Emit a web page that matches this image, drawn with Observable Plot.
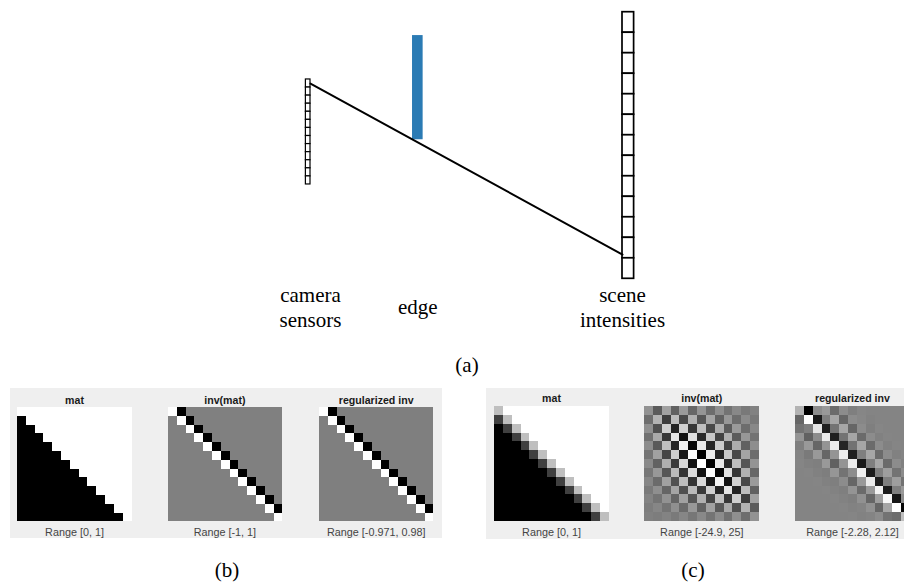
<!DOCTYPE html>
<html>
<head>
<meta charset="utf-8">
<script src="https://cdn.jsdelivr.net/npm/d3@7"></script>
<script src="https://cdn.jsdelivr.net/npm/@observablehq/plot@0.6"></script>
<style>
  html, body { margin: 0; padding: 0; background: #fff; }
  #fig { position: relative; width: 904px; height: 584px; overflow: hidden; background: #fff; }
  .serif { font-family: "Liberation Serif", "Times New Roman", serif; font-size: 21px; line-height: 24px; text-align: center; color: #000; }
  .panel { position: absolute; background: #efefef; }
  .mtitle { position: absolute; font-family: "Liberation Sans", Arial, Helvetica, sans-serif; font-weight: bold; font-size: 10.6px; line-height: 12px; text-align: center; color: #1a1a1a; white-space: nowrap; }
  .mrange { position: absolute; font-family: "Liberation Sans", Arial, Helvetica, sans-serif; font-size: 10.8px; line-height: 12px; text-align: center; color: #444; white-space: nowrap; }
</style>
</head>
<body>
<div id="fig"></div>
<script>
// ---------------- DATA ----------------
// Diagram (a): depths along the viewing direction (camera = 0, scene = 1),
// heights in units of scene cells (13 scene cells, 13 sensor cells).
const sceneCellIndex = [0,1,2,3,4,5,6,7,8,9,10,11,12];
const sensorCellIndex = [0,1,2,3,4,5,6,7,8,9,10,11,12];
const sensorSpan = [3.28, 8.40];
const edgeDepth = [0.327, 0.361];
const edgeSpan = [1.14, 6.22];
const rayPoints = [{depth: 0, h: 3.48}, {depth: 1, h: 11.82}];
const planeLabels = ["camera\nsensors", "edge", "scene\nintensities"];
const planeDepths = [0, 0.344, 1];
const panelLetters = ["(a)", "(b)", "(c)"];

// Matrix panels
const titles = ["mat", "inv(mat)", "regularized inv"];
const rangesB = [[0, 1], [-1, 1], [-0.971, 0.98]];
const rangesC = [[0, 1], [-24.9, 25], [-2.28, 2.12]];

const matB = [
  [1,1,1,1,1,1,1,1,1,1,1,1,1],
  [0,1,1,1,1,1,1,1,1,1,1,1,1],
  [0,0,1,1,1,1,1,1,1,1,1,1,1],
  [0,0,0,1,1,1,1,1,1,1,1,1,1],
  [0,0,0,0,1,1,1,1,1,1,1,1,1],
  [0,0,0,0,0,1,1,1,1,1,1,1,1],
  [0,0,0,0,0,0,1,1,1,1,1,1,1],
  [0,0,0,0,0,0,0,1,1,1,1,1,1],
  [0,0,0,0,0,0,0,0,1,1,1,1,1],
  [0,0,0,0,0,0,0,0,0,1,1,1,1],
  [0,0,0,0,0,0,0,0,0,0,1,1,1],
  [0,0,0,0,0,0,0,0,0,0,0,1,1],
  [0,0,0,0,0,0,0,0,0,0,0,0,1]
];
const invB = [
  [1,-1,0,0,0,0,0,0,0,0,0,0,0],
  [0,1,-1,0,0,0,0,0,0,0,0,0,0],
  [0,0,1,-1,0,0,0,0,0,0,0,0,0],
  [0,0,0,1,-1,0,0,0,0,0,0,0,0],
  [0,0,0,0,1,-1,0,0,0,0,0,0,0],
  [0,0,0,0,0,1,-1,0,0,0,0,0,0],
  [0,0,0,0,0,0,1,-1,0,0,0,0,0],
  [0,0,0,0,0,0,0,1,-1,0,0,0,0],
  [0,0,0,0,0,0,0,0,1,-1,0,0,0],
  [0,0,0,0,0,0,0,0,0,1,-1,0,0],
  [0,0,0,0,0,0,0,0,0,0,1,-1,0],
  [0,0,0,0,0,0,0,0,0,0,0,1,-1],
  [0,0,0,0,0,0,0,0,0,0,0,0,1]
];
const regB = [
  [0.97,-0.971,0,0,0,0,0,0,0,0,0,0,0],
  [0,0.97,-0.97,0,0,0,0,0,0,0,0,0,0],
  [0,0,0.97,-0.97,0,0,0,0,0,0,0,0,0],
  [0,0,0,0.97,-0.97,0,0,0,0,0,0,0,0],
  [0,0,0,0,0.97,-0.97,0,0,0,0,0,0,0],
  [0,0,0,0,0,0.97,-0.97,0,0,0,0,0,0],
  [0,0,0,0,0,0,0.97,-0.97,0,0,0,0,0],
  [0,0,0,0,0,0,0,0.97,-0.97,0,0,0,0],
  [0,0,0,0,0,0,0,0,0.97,-0.97,0,0,0],
  [0,0,0,0,0,0,0,0,0,0.97,-0.97,0,0],
  [0,0,0,0,0,0,0,0,0,0,0.97,-0.97,0],
  [0,0,0,0,0,0,0,0,0,0,0,0.97,-0.97],
  [0,0,0,0,0,0,0,0,0,0,0,0,0.98]
];
const matC = [
  [0.75,1,1,1,1,1,1,1,1,1,1,1,1],
  [0.25,0.75,1,1,1,1,1,1,1,1,1,1,1],
  [0,0.25,0.75,1,1,1,1,1,1,1,1,1,1],
  [0,0,0.25,0.75,1,1,1,1,1,1,1,1,1],
  [0,0,0,0.25,0.75,1,1,1,1,1,1,1,1],
  [0,0,0,0,0.25,0.75,1,1,1,1,1,1,1],
  [0,0,0,0,0,0.25,0.75,1,1,1,1,1,1],
  [0,0,0,0,0,0,0.25,0.75,1,1,1,1,1],
  [0,0,0,0,0,0,0,0.25,0.75,1,1,1,1],
  [0,0,0,0,0,0,0,0,0.25,0.75,1,1,1],
  [0,0,0,0,0,0,0,0,0,0.25,0.75,1,1],
  [0,0,0,0,0,0,0,0,0,0,0.25,0.75,1],
  [0,0,0,0,0,0,0,0,0,0,0,0.25,0.75]
];
const invC = [
  [3.70,-7.11,6.52,-5.93,5.33,-4.74,4.15,-3.56,2.96,-2.37,1.78,-1.19,0.59],
  [-3.41,10.22,-13.04,11.85,-10.67,9.48,-8.30,7.11,-5.93,4.74,-3.56,2.37,-1.19],
  [3.11,-9.33,15.56,-17.78,16.00,-14.22,12.44,-10.67,8.89,-7.11,5.33,-3.56,1.78],
  [-2.81,8.44,-14.07,19.70,-21.33,18.96,-16.59,14.22,-11.85,9.48,-7.11,4.74,-2.37],
  [2.52,-7.56,12.59,-17.63,22.67,-23.70,20.74,-17.78,14.81,-11.85,8.89,-5.93,2.96],
  [-2.22,6.67,-11.11,15.56,-20.00,24.44,-24.89,21.33,-17.78,14.22,-10.67,7.11,-3.56],
  [1.93,-5.78,9.63,-13.48,17.33,-21.19,25.04,-24.89,20.74,-16.59,12.44,-8.30,4.15],
  [-1.63,4.89,-8.15,11.41,-14.67,17.93,-21.19,24.44,-23.70,18.96,-14.22,9.48,-4.74],
  [1.33,-4.00,6.67,-9.33,12.00,-14.67,17.33,-20.00,22.67,-21.33,16.00,-10.67,5.33],
  [-1.04,3.11,-5.19,7.26,-9.33,11.41,-13.48,15.56,-17.63,19.70,-17.78,11.85,-5.93],
  [0.74,-2.22,3.70,-5.19,6.67,-8.15,9.63,-11.11,12.59,-14.07,15.56,-13.04,6.52],
  [-0.44,1.33,-2.22,3.11,-4.00,4.89,-5.78,6.67,-7.56,8.44,-9.33,10.22,-7.11],
  [0.15,-0.44,0.74,-1.04,1.33,-1.63,1.93,-2.22,2.52,-2.81,3.11,-3.41,3.70]
];
const regC = [
  [0.80,-2.28,0.14,0.36,-0.43,0.14,-0.08,0.03,0,0,0,0,0],
  [-0.52,2.12,-1.84,-0.08,0.58,-0.52,0.14,0.05,-0.03,0,0,0,0],
  [-0.30,-0.08,1.68,-1.75,-0.30,0.58,-0.52,0.14,-0.08,0.03,0,0,0],
  [0.27,-0.60,0.14,1.77,-1.75,-0.30,0.58,-0.43,0.14,-0.05,0.02,0,0],
  [-0.08,0.36,-0.52,0.27,1.77,-1.62,-0.30,0.58,-0.43,0.14,-0.05,0.02,0],
  [0.00,-0.17,0.36,-0.52,0.27,1.77,-1.75,-0.08,0.58,-0.43,0.14,-0.05,0.02],
  [0.02,-0.05,-0.08,0.36,-0.60,0.27,1.77,-1.84,-0.08,0.58,-0.43,0.14,-0.05],
  [0,0.02,-0.05,-0.10,0.30,-0.30,0.14,1.85,-1.80,-0.08,0.45,-0.30,0.14],
  [0,0,0.02,-0.05,-0.08,0.14,-0.52,0.36,1.77,-1.75,-0.08,0.45,-0.30],
  [0,0,0,0.02,-0.03,-0.08,0.27,-0.43,0.36,1.90,-1.80,-0.08,0.36],
  [0,0,0,0,0.02,-0.03,-0.08,0.23,-0.52,0.45,2.00,-1.90,0.14],
  [0,0,0,0,0,0.02,-0.03,0.00,0.23,-0.52,0.58,2.10,-2.20],
  [0,0,0,0,0,0,0.02,-0.03,0.00,0.14,-0.30,-0.40,1.00]
];

// ---------------- LAYOUT ----------------
const fig = document.getElementById("fig");
function place(el, left, top) {
  el.style.position = "absolute";
  el.style.left = left + "px";
  el.style.top = top + "px";
  fig.appendChild(el);
  return el;
}
function addDiv(cls, text, left, top, width) {
  const d = document.createElement("div");
  d.className = cls;
  d.textContent = text;
  d.style.width = width + "px";
  return place(d, left, top);
}

// ----- (a) diagram -----
const sensorH = (sensorSpan[1] - sensorSpan[0]) / sensorCellIndex.length;
const sensorRects = sensorCellIndex.map(k => ({k}));
const sceneRects = sceneCellIndex.map(k => ({k}));
const labelRows = planeLabels.map((t, i) => ({t, depth: planeDepths[i]}));
const sensorThick = 0.0148;
const sceneThick = 0.0372;

const diagram = Plot.plot({
  width: 904,
  height: 345,
  x: {type: "linear", domain: [0, 1], range: [310, 622], axis: null},
  y: {type: "linear", domain: [0, 13], range: [11.7, 278.3], axis: null},
  style: {background: "white", overflow: "visible"},
  marks: [
    Plot.rect(sceneRects, {
      x1: () => 1, x2: () => 1 + sceneThick,
      y1: d => d.k, y2: d => d.k + 1,
      fill: "white", stroke: "black", strokeWidth: 1.7
    }),
    Plot.rect(sensorRects, {
      x1: () => -sensorThick, x2: () => 0,
      y1: d => sensorSpan[0] + d.k * sensorH, y2: d => sensorSpan[0] + (d.k + 1) * sensorH,
      fill: "white", stroke: "black", strokeWidth: 1.2
    }),
    Plot.rect([edgeSpan], {
      x1: () => edgeDepth[0], x2: () => edgeDepth[1],
      y1: d => d[0], y2: d => d[1],
      fill: "#2b7bb4"
    }),
    Plot.line(rayPoints, {x: "depth", y: "h", stroke: "black", strokeWidth: 2}),
    Plot.text(labelRows, {
      x: "depth", y: () => 14.33, text: "t",
      fontFamily: "Liberation Serif, Times New Roman, serif",
      fontSize: 21, lineHeight: 1.19, fill: "black", textAnchor: "middle"
    })
  ]
});
place(diagram, 0, 0);

// panel letters
addDiv("serif", panelLetters[0], 417, 353, 100);
addDiv("serif", panelLetters[1], 177, 558, 100);
addDiv("serif", panelLetters[2], 643, 558, 100);

// ----- matrix panels -----
function drawMatrix(values, domain, left, top, size) {
  const cells = values.flatMap((row, i) => row.map((v, j) => ({i, j, v})));
  const n = values.length;
  const p = Plot.plot({
    width: size, height: size,
    margin: 0,
    x: {type: "band", domain: d3.range(n), padding: 0, round: false, axis: null},
    y: {type: "band", domain: d3.range(n), padding: 0, round: false, axis: null},
    color: {type: "linear", domain: domain, range: ["black", "white"], interpolate: "rgb", clamp: true},
    style: {background: "white"},
    marks: [
      Plot.cell(cells, {x: "j", y: "i", fill: "v", inset: 0, shapeRendering: "crispEdges"})
    ]
  });
  place(p, left, top);
}

// panel (b)
const pb = document.createElement("div"); pb.className = "panel";
pb.style.width = "432px"; pb.style.height = "150px";
place(pb, 10, 388);
const bLefts = [17.3, 167.7, 319];
const bMats = [matB, invB, regB];
bMats.forEach((m, k) => {
  drawMatrix(m, rangesB[k], bLefts[k], 406.7, 114.4);
  addDiv("mtitle", titles[k], bLefts[k] - 20, 394, 154.4);
  addDiv("mrange", `Range [${rangesB[k][0]}, ${rangesB[k][1]}]`, bLefts[k] - 20, 525.5, 154.4);
});

// panel (c)
const pc = document.createElement("div"); pc.className = "panel";
pc.style.width = "430px"; pc.style.height = "151px";
place(pc, 486, 388);
const cLefts = [494, 644.3, 795];
const cMats = [matC, invC, regC];
cMats.forEach((m, k) => {
  drawMatrix(m, rangesC[k], cLefts[k], 405.7, 115);
  addDiv("mtitle", titles[k], cLefts[k] - 20, 392.3, 155);
  addDiv("mrange", `Range [${rangesC[k][0]}, ${rangesC[k][1]}]`, cLefts[k] - 20, 525.5, 155);
});
</script>
</body>
</html>
